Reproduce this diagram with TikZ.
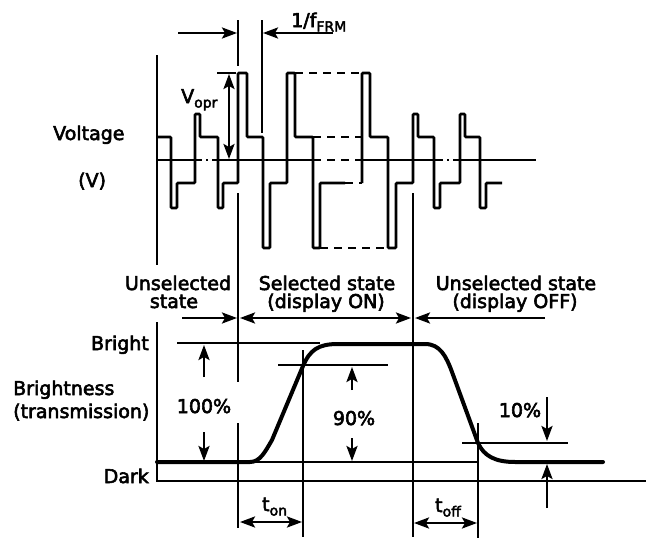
\documentclass[tikz,border=0pt]{standalone}
\usepackage{fontspec}
\setmainfont[FakeBold=3]{DejaVu Sans}
\usetikzlibrary{arrows.meta}
\newcommand{\lowsub}[1]{\raisebox{-4.5pt}{\fontsize{14}{15}\selectfont #1}}
\tikzset{tipA/.tip={Stealth[length=15pt,width=11pt,inset=3pt]}}
\begin{document}
\begin{tikzpicture}[x=1pt,y=-1pt,
  lbl/.style={font=\fontsize{19}{20}\selectfont, inner sep=0pt},
  ln/.style={line width=2.4pt},
  wave/.style={line width=2.6pt, rounded corners=1pt},
  dsh/.style={line width=2.6pt, dash pattern=on 8pt off 6pt},
  dashdot/.style={line width=2.6pt, dash pattern=on 7pt off 4pt on 2pt off 4pt},
  arr/.style={line width=2.4pt, -tipA},
  darr/.style={line width=2.4pt, tipA-tipA},
  bcurve/.style={line width=4pt, line cap=round, line join=round}]
\useasboundingbox (0,0) rectangle (646,541);

% ---------------- Voltage part ----------------
\draw[ln] (157,55) -- (157,265);
% zero line
\draw[wave] (157,160) -- (195,160);
\draw[dashdot] (195,160) -- (217,160);
\draw[wave] (217,160) -- (313,160);
\draw[dsh] (313,160) -- (363,160);
\draw[wave] (363,160) -- (436,160);
\draw[dashdot] (436,160) -- (458,160);
\draw[wave] (458,160) -- (536,160);

% waveform
\draw[wave] (157,137) -- (171,137) -- (171,208) -- (177,208) -- (177,183) -- (195,183)
  -- (195,114) -- (200,114) -- (200,137) -- (218,137) -- (218,208) -- (223,208)
  -- (223,183) -- (238,183) -- (238,73) -- (247,73) -- (247,137) -- (263,137)
  -- (263,248) -- (270,248) -- (270,183) -- (287,183) -- (287,73) -- (295,73)
  -- (295,137) -- (313,137) -- (313,248) -- (320,248) -- (320,183) -- (345,183);
\draw[wave] (362,183) -- (362,73) -- (370,73) -- (370,137) -- (388,137) -- (388,248)
  -- (396,248) -- (396,183) -- (413,183) -- (413,114) -- (418,114) -- (418,137)
  -- (434,137) -- (434,208) -- (440,208) -- (440,183) -- (460,183) -- (460,114)
  -- (465,114) -- (465,137) -- (480,137) -- (480,208) -- (486,208) -- (486,183)
  -- (502,183);
\draw[dsh] (295,73) -- (362,73);
\draw[dsh] (313,137) -- (362,137);
\draw[dsh] (345,183) -- (362,183);
\draw[dsh] (320,248) -- (388,248);

% markers
\draw[ln] (238,20) -- (238,66);
\draw[ln] (262,20) -- (262,133);
\draw[ln] (238,193) -- (238,382);
\draw[ln] (238,423) -- (238,528);
\draw[ln] (413,193) -- (413,537);

% 1/fFRM
\coordinate (fL) at (178,33);
\coordinate (fR) at (333,33);
\coordinate (fa) at (237,33);
\coordinate (fb) at (263,33);
\draw[arr] (fL) -- (fa);
\draw[arr] (fR) -- (fb);
\node[lbl, anchor=base west] (ffrm) at (291,27) {1/f\lowsub{FRM}};

% Vopr
\draw[ln] (217,73) -- (236,73);
\coordinate (va) at (229,74);
\coordinate (vb) at (229,159);
\draw[darr] (va) -- (vb);
\node[lbl, anchor=base west] (vopr) at (181,103) {V\lowsub{opr}};

\node[lbl, anchor=base west] (volt) at (53,140) {Voltage};
\node[lbl, anchor=base west] (vunit) at (78,187) {(V)};

% ---------------- State labels ----------------
\node[lbl, anchor=base] (u1a) at (178,290) {Unselected};
\node[lbl, anchor=base] (u1b) at (174,308) {state};
\node[lbl, anchor=base] (s1a) at (327,290) {Selected state};
\node[lbl, anchor=base] (s1b) at (326,308) {(display ON)};
\node[lbl, anchor=base] (u2a) at (516,290) {Unselected state};
\node[lbl, anchor=base] (u2b) at (515,308) {(display OFF)};

\coordinate (sa) at (182,318);
\coordinate (sb) at (237,318);
\coordinate (sc) at (240,318);
\coordinate (sd) at (411,318);
\coordinate (se) at (415,318);
\coordinate (sf) at (545,318);
\draw[arr] (sa) -- (sb);
\draw[darr] (sc) -- (sd);
\draw[arr] (sf) -- (se);

% ---------------- Brightness part ----------------
\draw[line width=2.6pt] (157,322) -- (157,481) -- (646,481);
\draw[ln] (157,462) -- (478,462);
\draw[ln] (177,343) -- (320,343);
\draw[ln] (278,365) -- (388,365);
\draw[ln] (462,443) -- (568,443);
\draw[ln] (303,350) -- (303,537);
\draw[ln] (478,423) -- (478,538);

\draw[bcurve] (157,462) -- (250,462) .. controls (260,462) and (265,452) .. (272,440)
  -- (303,366) .. controls (310,350) and (318,344) .. (338,344) -- (425,344)
  .. controls (440,344) and (446,356) .. (452,372) -- (478,443)
  .. controls (484,456) and (495,462) .. (515,462) -- (603,462);

\node[lbl, anchor=base east] (bright) at (149,350) {Bright};
\node[lbl, anchor=base east] (dark) at (149,483) {Dark};
\node[lbl, anchor=base west] (bness) at (13,395) {Brightness};
\node[lbl, anchor=base west] (trans) at (13,418) {(transmission)};

% 100%
\node[lbl, anchor=base] (p100) at (204,413) {100\%};
\coordinate (h1) at (204,377);
\coordinate (h2) at (204,345);
\coordinate (h3) at (204,432);
\coordinate (h4) at (204,461);
\draw[arr] (h1) -- (h2);
\draw[arr] (h3) -- (h4);

% 90%
\node[lbl, anchor=base] (p90) at (354,425) {90\%};
\coordinate (n1) at (352,390);
\coordinate (n2) at (352,367);
\coordinate (n3) at (352,438);
\coordinate (n4) at (352,461);
\draw[arr] (n1) -- (n2);
\draw[arr] (n3) -- (n4);

% 10%
\node[lbl, anchor=base] (p10) at (520,417) {10\%};
\coordinate (t1) at (547,397);
\coordinate (t2) at (547,441);
\coordinate (t3) at (547,508);
\coordinate (t4) at (547,464);
\draw[arr] (t1) -- (t2);
\draw[arr] (t3) -- (t4);

% ton / toff
\node[lbl, anchor=base west] (ton) at (262,511) {t\lowsub{on}};
\node[lbl, anchor=base west] (toff) at (435,512) {t\lowsub{off}};
\coordinate (o1) at (240,522);
\coordinate (o2) at (302,522);
\coordinate (o3) at (414,523);
\coordinate (o4) at (477,523);
\draw[darr] (o1) -- (o2);
\draw[darr] (o3) -- (o4);
\end{tikzpicture}
\end{document}
